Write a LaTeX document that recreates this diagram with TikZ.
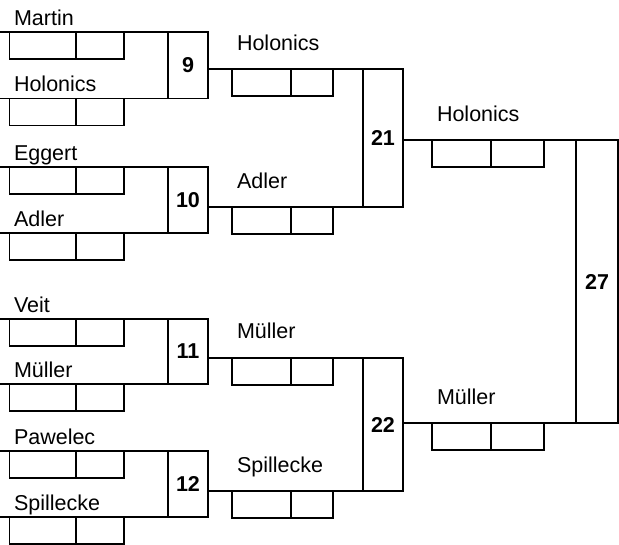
\documentclass[tikz,border=0pt]{standalone}
\usepackage{fontspec}
\setmainfont{Liberation Sans}
\newcommand\cellpair[5]{%
  \node[cell, minimum width=#3pt] (#1a) at (#2,#5) {};
  \node[cell, minimum width=#4pt] (#1b) at (#1a.north east) {};
}
\begin{document}
\begin{tikzpicture}[x=1pt,y=-1pt, line width=1.8pt,
  every node/.style={inner sep=0pt, outer sep=0pt},
  matchbox/.style={draw, rectangle, minimum width=40pt, font=\bfseries\fontsize{21.5}{24}\selectfont},
  cell/.style={draw, rectangle, anchor=north west, minimum height=27pt},
  player/.style={anchor=base west, font=\fontsize{21.5}{24}\selectfont}]
\useasboundingbox (0,0) rectangle (619,545);
\coordinate (o) at (0,0);
% match boxes
\node[matchbox, minimum height=66.5pt] (m9) at (188,65.25) {9};
\node[matchbox, minimum height=66pt] (m10) at (188,200) {10};
\node[matchbox, minimum height=65pt] (m11) at (188,351.5) {11};
\node[matchbox, minimum height=66pt] (m12) at (188,484) {12};
\node[matchbox, minimum height=138pt] (m21) at (383,138) {21};
\node[matchbox, minimum height=133pt] (m22) at (383,424.5) {22};
\node[matchbox, minimum width=42pt, minimum height=283pt] (m27) at (597,281.5) {27};
% round 1 lines
\foreach \m in {m9,m10,m11,m12}{
  \draw (\m.north west -| o) -- (\m.north west);
  \draw (\m.south west -| o) -- (\m.south west);
}
% round 2 lines
\draw (m21.north west -| m9.east) -- (m21.north west);
\draw (m21.south west -| m10.east) -- (m21.south west);
\draw (m22.north west -| m11.east) -- (m22.north west);
\draw (m22.south west -| m12.east) -- (m22.south west);
% round 3 lines
\draw (m27.north west -| m21.east) -- (m27.north west);
\draw (m27.south west -| m22.east) -- (m27.south west);
% score cells
\cellpair{c9t}{9.5}{66.5}{48}{32}
\cellpair{c9b}{9.5}{66.5}{48}{98.5}
\cellpair{c10t}{9.5}{66.5}{48}{167}
\cellpair{c10b}{9.5}{66.5}{48}{233}
\cellpair{c11t}{9.5}{66.5}{48}{319}
\cellpair{c11b}{9.5}{66.5}{48}{384}
\cellpair{c12t}{9.5}{66.5}{48}{451}
\cellpair{c12b}{9.5}{66.5}{48}{517}
\cellpair{c21t}{232}{59}{42}{69}
\cellpair{c21b}{232}{59}{42}{207}
\cellpair{c22t}{232}{59}{42}{358}
\cellpair{c22b}{232}{59}{42}{491}
\cellpair{c27t}{432}{59}{53}{140}
\cellpair{c27b}{432}{59}{53}{423}
% player names
\node[player] (p1) at (14,25.5) {Martin};
\node[player] (p2) at (14,92) {Holonics};
\node[player] (p3) at (14,160.5) {Eggert};
\node[player] (p4) at (14,226.5) {Adler};
\node[player] (p5) at (14,312.5) {Veit};
\node[player] (p6) at (14,377.5) {Müller};
\node[player] (p7) at (14,444.5) {Pawelec};
\node[player] (p8) at (14,510.5) {Spillecke};
\node[player] (q1) at (237,51) {Holonics};
\node[player] (q2) at (237,188.5) {Adler};
\node[player] (q3) at (237,339) {Müller};
\node[player] (q4) at (237,472.5) {Spillecke};
\node[player] (r1) at (437,121.5) {Holonics};
\node[player] (r2) at (437,405) {Müller};
\end{tikzpicture}
\end{document}
